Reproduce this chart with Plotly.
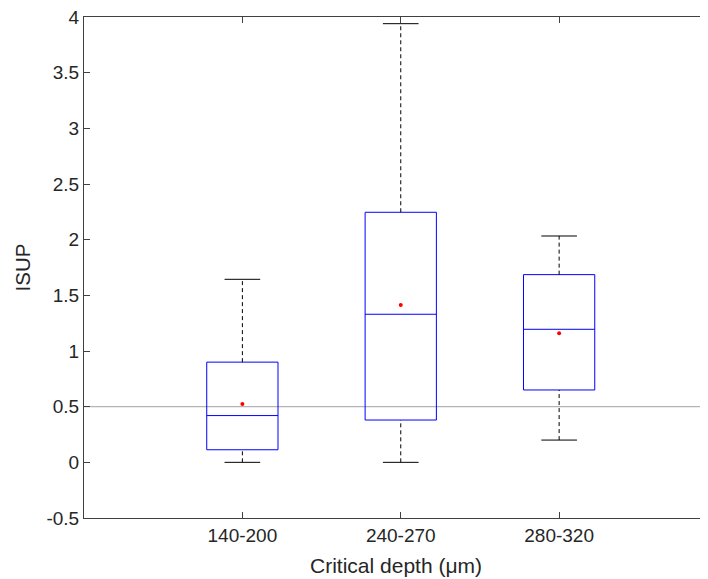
import plotly.graph_objects as go

categories = ["140-200", "240-270", "280-320"]
positions = [1, 2, 3]
q1 = [0.113, 0.38, 0.65]
median = [0.42, 1.33, 1.195]
q3 = [0.90, 2.246, 1.686]
lower_whisker = [0.0, 0.0, 0.20]
upper_whisker = [1.644, 3.94, 2.033]
means = [0.524, 1.413, 1.159]
reference_level = 0.5
ytick_vals = [-0.5, 0, 0.5, 1, 1.5, 2, 2.5, 3, 3.5, 4]
ytick_text = ["-0.5", "0", "0.5", "1", "1.5", "2", "2.5", "3", "3.5", "4"]

BOX_W = 0.45
CAP_W = 0.225
TXT = "#262626"
FONT = "Liberation Sans, Arial, sans-serif"

fig = go.Figure()

# reference line
fig.add_shape(type="line", xref="paper", x0=0, x1=1, yref="y",
              y0=reference_level, y1=reference_level,
              line=dict(color="#b4b4b4", width=1.3), layer="below")

# whiskers (dashed) and caps
for p, a, b, lo, hi in zip(positions, q1, q3, lower_whisker, upper_whisker):
    fig.add_trace(go.Scatter(x=[p, p, None, p, p], y=[b, hi, None, lo, a],
                             mode="lines", line=dict(color="black", width=1, dash="4px,3px"),
                             hoverinfo="skip", showlegend=False))
    fig.add_trace(go.Scatter(x=[p - CAP_W / 2, p + CAP_W / 2, None, p - CAP_W / 2, p + CAP_W / 2],
                             y=[hi, hi, None, lo, lo],
                             mode="lines", line=dict(color="black", width=1),
                             hoverinfo="skip", showlegend=False))

# boxes
fig.add_trace(go.Box(x=positions, q1=q1, median=median, q3=q3,
                     lowerfence=q1, upperfence=q3,
                     width=BOX_W, whiskerwidth=0,
                     line=dict(color="rgb(0,0,255)", width=1),
                     fillcolor="rgba(0,0,0,0)", boxpoints=False,
                     showlegend=False))

# means
fig.add_trace(go.Scatter(x=positions, y=means, mode="markers",
                         marker=dict(color="red", size=4),
                         showlegend=False))

axis_common = dict(showline=True, linecolor="#404040", linewidth=1,
                   ticks="inside", ticklen=6, tickcolor="#404040",
                   showgrid=False, zeroline=False, ticklabeloverflow="allow",
                   tickfont=dict(family=FONT, size=19, color=TXT))

fig.update_layout(
    width=700, height=571,
    margin=dict(l=76, r=0, t=9, b=61),
    paper_bgcolor="white", plot_bgcolor="white",
    font=dict(family=FONT, color=TXT),
    xaxis=dict(range=[0, 3.94], tickvals=positions, ticktext=categories,
               mirror="ticks",
               title=dict(text="Critical depth (μm)", font=dict(family=FONT, size=21, color=TXT),
                          standoff=13),
               **axis_common),
    yaxis=dict(range=[-0.5, 4], tickvals=ytick_vals, ticktext=ytick_text,
               title=dict(text="ISUP", font=dict(family=FONT, size=20.5, color=TXT),
                          standoff=10),
               **axis_common),
)

fig.write_html("out.html")
